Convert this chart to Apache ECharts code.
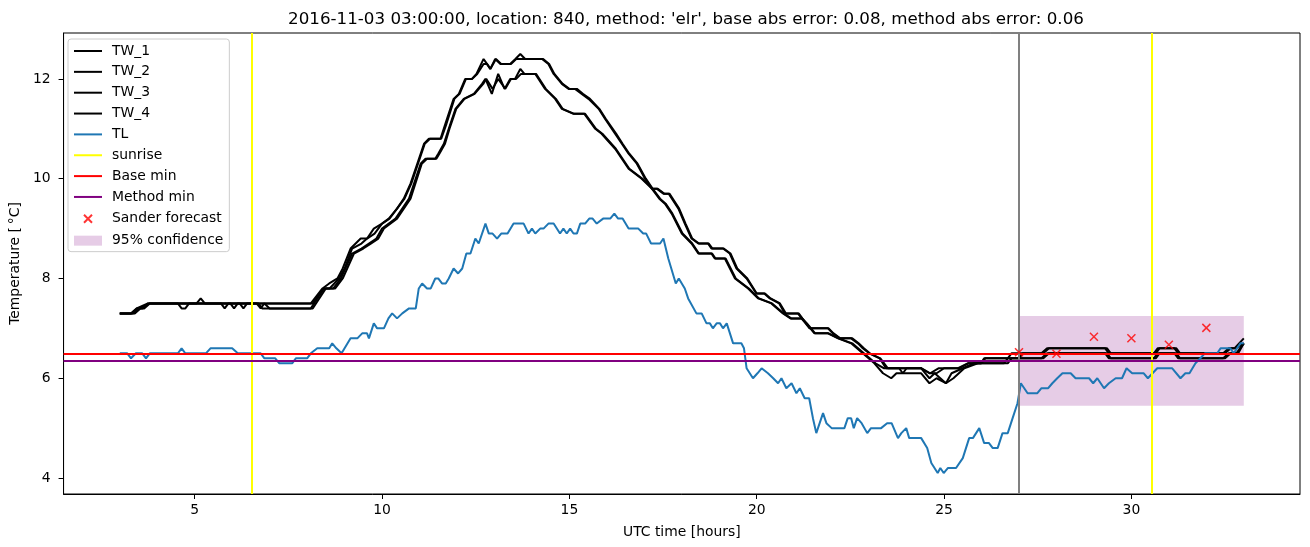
<!DOCTYPE html>
<html><head><meta charset="utf-8">
<script src="https://cdn.jsdelivr.net/npm/echarts@6/dist/echarts.min.js"></script>
<style>html,body{margin:0;padding:0;background:#fff}#c{width:1310px;height:547px}</style>
</head><body><div id="c"></div>
<script>
const titleText = "2016-11-03 03:00:00, location: 840, method: 'elr', base abs error: 0.08, method abs error: 0.06";
const xTicks = [5, 10, 15, 20, 25, 30];
const yTicks = [4, 6, 8, 10, 12];

const TW_1 = [[3.0,7.3],[3.3,7.3],[3.45,7.4],[3.6,7.4],[3.75,7.5],[5.05,7.5],[5.16,7.6],[5.27,7.5],[8.1,7.5],[8.41,7.8],[8.59,7.9],[8.81,8.0],[8.95,8.2],[9.16,8.6],[9.43,8.8],[9.6,8.8],[9.78,9.0],[10.0,9.1],[10.18,9.2],[10.4,9.4],[10.58,9.6],[10.76,9.9],[10.94,10.3],[11.12,10.7],[11.25,10.8],[11.56,10.8],[11.69,11.1],[11.91,11.6],[12.05,11.7],[12.22,12.0],[12.4,12.0],[12.52,12.1],[12.71,12.4],[12.8,12.3],[12.89,12.2],[13.02,12.4],[13.16,12.3],[13.42,12.3],[13.56,12.4],[13.69,12.5],[13.82,12.4],[14.27,12.4],[14.44,12.3],[14.58,12.1],[14.8,11.9],[14.98,11.8],[15.15,11.8],[15.33,11.7],[15.51,11.6],[15.78,11.4],[15.95,11.2],[16.22,10.9],[16.4,10.7],[16.58,10.5],[16.8,10.3],[17.02,10.0],[17.2,9.8],[17.33,9.8],[17.51,9.7],[17.65,9.7],[17.91,9.4],[18.08,9.1],[18.26,8.8],[18.44,8.7],[18.7,8.7],[18.79,8.6],[19.1,8.6],[19.28,8.5],[19.46,8.2],[19.73,8.0],[19.99,7.7],[20.2,7.7],[20.35,7.6],[20.6,7.5],[20.75,7.3],[21.1,7.3],[21.2,7.2],[21.41,7.0],[21.9,7.0],[22.03,6.9],[22.21,6.8],[22.52,6.8],[22.7,6.7],[22.83,6.6],[23.0,6.5],[23.28,6.4],[23.45,6.2],[24.39,6.2],[24.61,6.1],[24.8,6.1],[25.0,6.2],[25.36,6.2],[25.63,6.3],[25.98,6.3],[26.07,6.4],[26.7,6.4],[26.8,6.5],[27.6,6.5],[27.75,6.6],[29.35,6.6],[29.45,6.5],[30.6,6.5],[30.7,6.6],[31.2,6.6],[31.3,6.5],[32.45,6.5],[32.6,6.6],[32.75,6.6],[33.0,6.8]];

const TW_2 = [[3.0,7.3],[3.4,7.3],[3.55,7.4],[3.65,7.4],[3.8,7.5],[4.55,7.5],[4.65,7.4],[4.75,7.4],[4.85,7.5],[8.15,7.5],[8.45,7.8],[8.6,7.8],[8.85,8.0],[9.0,8.2],[9.2,8.6],[9.45,8.7],[9.6,8.8],[9.8,8.9],[10.0,9.1],[10.2,9.2],[10.4,9.4],[10.6,9.6],[10.78,9.9],[10.96,10.3],[11.14,10.7],[11.28,10.8],[11.58,10.8],[11.72,11.1],[11.93,11.6],[12.07,11.7],[12.24,12.0],[12.4,12.0],[12.54,12.1],[12.71,12.3],[12.8,12.3],[12.89,12.2],[13.04,12.4],[13.18,12.3],[13.44,12.3],[13.58,12.4],[13.7,12.4],[14.3,12.4],[14.46,12.3],[14.6,12.1],[14.82,11.9],[15.0,11.8],[15.2,11.8],[15.36,11.7],[15.55,11.6],[15.8,11.4],[15.97,11.2],[16.25,10.9],[16.42,10.7],[16.6,10.5],[16.82,10.3],[17.04,10.0],[17.22,9.8],[17.36,9.8],[17.53,9.7],[17.67,9.7],[17.93,9.4],[18.1,9.1],[18.28,8.8],[18.46,8.7],[18.72,8.7],[18.82,8.6],[19.12,8.6],[19.3,8.5],[19.48,8.2],[19.75,8.0],[20.0,7.7],[20.22,7.7],[20.37,7.6],[20.62,7.5],[20.78,7.3],[21.12,7.3],[21.22,7.2],[21.43,7.0],[21.92,7.0],[22.05,6.9],[22.23,6.8],[22.55,6.8],[22.72,6.7],[22.86,6.6],[23.02,6.5],[23.3,6.4],[23.5,6.2],[23.8,6.2],[23.9,6.1],[24.0,6.2],[24.4,6.2],[24.63,6.1],[24.85,6.2],[25.4,6.2],[25.65,6.3],[26.0,6.3],[26.1,6.4],[27.0,6.4],[27.1,6.5],[27.65,6.5],[27.8,6.6],[29.3,6.6],[29.4,6.5],[30.65,6.5],[30.75,6.6],[31.15,6.6],[31.25,6.5],[32.5,6.5],[32.65,6.6],[32.8,6.6],[33.0,6.7]];

const TW_3 = [[3.0,7.3],[3.3,7.3],[3.45,7.4],[3.75,7.5],[5.7,7.5],[5.8,7.4],[5.9,7.5],[6.2,7.5],[6.3,7.4],[6.4,7.5],[6.7,7.5],[6.8,7.4],[8.1,7.4],[8.45,7.8],[8.7,7.8],[8.9,8.0],[9.2,8.5],[9.45,8.6],[9.65,8.7],[9.85,8.8],[10.0,9.0],[10.36,9.2],[10.72,9.6],[11.03,10.3],[11.16,10.4],[11.42,10.4],[11.5,10.5],[11.65,10.7],[11.78,11.0],[11.96,11.4],[12.18,11.6],[12.45,11.7],[12.67,11.9],[12.76,12.0],[12.93,11.7],[13.1,12.1],[13.27,11.8],[13.42,12.0],[13.55,12.0],[13.69,12.2],[13.8,12.1],[14.09,12.1],[14.35,11.8],[14.62,11.6],[14.8,11.4],[15.11,11.3],[15.4,11.3],[15.69,11.0],[15.86,10.9],[16.22,10.6],[16.58,10.2],[16.93,10.0],[17.2,9.8],[17.4,9.6],[17.55,9.5],[17.73,9.3],[18.0,8.9],[18.26,8.7],[18.44,8.5],[18.79,8.5],[18.88,8.4],[19.15,8.4],[19.42,8.0],[19.77,7.8],[20.04,7.6],[20.39,7.5],[20.7,7.3],[20.9,7.2],[21.19,7.2],[21.32,7.1],[21.54,6.9],[21.9,6.9],[22.17,6.8],[22.52,6.7],[22.83,6.5],[23.14,6.3],[23.37,6.1],[23.59,6.0],[23.73,6.1],[24.39,6.1],[24.61,5.9],[24.8,6.0],[25.05,5.9],[25.25,6.0],[25.54,6.2],[25.9,6.3],[26.6,6.3],[26.7,6.4],[27.6,6.4],[27.75,6.5],[29.35,6.5],[29.45,6.4],[30.6,6.4],[30.7,6.5],[31.2,6.5],[31.3,6.4],[32.45,6.4],[32.6,6.5],[32.8,6.5],[33.0,6.7]];

const TW_4 = [[3.0,7.3],[3.35,7.3],[3.5,7.4],[3.8,7.5],[5.95,7.5],[6.05,7.4],[6.15,7.5],[6.65,7.5],[6.76,7.4],[6.86,7.5],[7.0,7.4],[8.15,7.4],[8.5,7.8],[8.75,7.8],[8.95,8.0],[9.25,8.5],[9.5,8.6],[9.7,8.7],[9.9,8.8],[10.05,9.0],[10.4,9.2],[10.76,9.6],[11.06,10.3],[11.2,10.4],[11.45,10.4],[11.53,10.5],[11.68,10.7],[11.8,11.0],[11.98,11.4],[12.2,11.6],[12.47,11.7],[12.7,11.9],[12.78,12.0],[12.95,11.8],[13.1,12.0],[13.29,11.8],[13.44,12.0],[13.58,12.0],[13.71,12.1],[14.11,12.1],[14.37,11.8],[14.64,11.6],[14.82,11.4],[15.13,11.3],[15.42,11.3],[15.71,11.0],[15.88,10.9],[16.24,10.6],[16.6,10.2],[16.95,10.0],[17.22,9.8],[17.42,9.6],[17.57,9.5],[17.75,9.3],[18.02,8.9],[18.28,8.7],[18.46,8.5],[18.81,8.5],[18.9,8.4],[19.17,8.4],[19.44,8.0],[19.79,7.8],[20.06,7.6],[20.41,7.5],[20.72,7.3],[20.92,7.2],[21.21,7.2],[21.34,7.1],[21.56,6.9],[21.92,6.9],[22.19,6.8],[22.55,6.7],[22.86,6.5],[23.17,6.3],[23.4,6.2],[23.7,6.2],[24.39,6.2],[24.5,6.1],[24.61,6.0],[24.75,6.1],[24.9,6.0],[25.05,5.9],[25.2,6.1],[25.5,6.2],[25.8,6.3],[26.7,6.3],[26.8,6.4],[27.65,6.4],[27.8,6.5],[29.3,6.5],[29.4,6.4],[30.65,6.4],[30.75,6.5],[31.15,6.5],[31.25,6.4],[32.5,6.4],[32.65,6.5],[32.85,6.5],[33.0,6.7]];

const TL = [[3.0,6.5],[3.2,6.5],[3.3,6.4],[3.43,6.5],[3.6,6.5],[3.7,6.4],[3.8,6.5],[4.55,6.5],[4.65,6.6],[4.75,6.5],[5.3,6.5],[5.42,6.6],[6.0,6.6],[6.15,6.5],[6.76,6.5],[6.86,6.4],[7.15,6.4],[7.26,6.3],[7.6,6.3],[7.7,6.4],[8.0,6.4],[8.1,6.5],[8.27,6.6],[8.59,6.6],[8.67,6.7],[8.78,6.6],[8.92,6.5],[9.16,6.8],[9.34,6.8],[9.47,6.9],[9.6,6.9],[9.65,6.8],[9.78,7.1],[9.87,7.0],[10.05,7.0],[10.17,7.2],[10.27,7.3],[10.4,7.2],[10.54,7.3],[10.72,7.4],[10.9,7.4],[10.98,7.8],[11.07,7.9],[11.2,7.8],[11.3,7.8],[11.42,8.0],[11.5,8.0],[11.6,7.9],[11.7,7.9],[11.78,8.0],[11.91,8.2],[12.03,8.1],[12.14,8.2],[12.25,8.5],[12.36,8.5],[12.49,8.8],[12.58,8.7],[12.76,9.1],[12.85,8.9],[12.95,8.9],[13.07,8.8],[13.18,8.9],[13.35,8.9],[13.51,9.1],[13.78,9.1],[13.91,8.9],[14.0,9.0],[14.09,8.9],[14.22,9.0],[14.31,9.0],[14.44,9.1],[14.58,9.1],[14.75,8.9],[14.84,9.0],[14.93,8.9],[15.02,9.0],[15.11,8.9],[15.2,8.9],[15.29,9.1],[15.42,9.1],[15.53,9.2],[15.62,9.2],[15.73,9.1],[15.9,9.2],[16.09,9.2],[16.2,9.3],[16.3,9.2],[16.42,9.2],[16.58,9.0],[16.84,9.0],[16.97,8.9],[17.05,8.9],[17.18,8.7],[17.42,8.7],[17.51,8.8],[17.64,8.4],[17.84,7.9],[17.92,8.0],[18.08,7.8],[18.17,7.6],[18.39,7.3],[18.53,7.3],[18.66,7.1],[18.75,7.1],[18.83,7.0],[18.93,7.1],[19.02,7.1],[19.1,7.0],[19.2,7.1],[19.37,6.7],[19.59,6.7],[19.66,6.6],[19.73,6.2],[19.9,6.0],[20.02,6.1],[20.13,6.2],[20.3,6.1],[20.44,6.0],[20.57,5.9],[20.66,6.0],[20.79,5.8],[20.93,5.9],[21.06,5.7],[21.15,5.8],[21.28,5.6],[21.4,5.6],[21.5,5.2],[21.59,4.9],[21.77,5.3],[21.86,5.1],[22.0,5.0],[22.34,5.0],[22.43,5.2],[22.52,5.2],[22.59,5.0],[22.68,5.2],[22.8,5.1],[22.95,4.9],[23.05,5.0],[23.32,5.0],[23.48,5.1],[23.6,5.1],[23.77,4.8],[23.86,4.9],[23.99,5.0],[24.07,4.8],[24.39,4.8],[24.55,4.6],[24.66,4.3],[24.83,4.1],[24.9,4.2],[24.99,4.1],[25.1,4.2],[25.32,4.2],[25.5,4.4],[25.67,4.8],[25.77,4.8],[25.94,5.0],[26.07,4.7],[26.2,4.7],[26.3,4.6],[26.43,4.6],[26.56,4.9],[26.7,4.9],[26.83,5.2],[26.96,5.5],[27.05,5.9],[27.23,5.7],[27.49,5.7],[27.6,5.8],[27.78,5.8],[27.89,5.9],[28.02,6.0],[28.16,6.1],[28.38,6.1],[28.51,6.0],[28.87,6.0],[28.98,5.9],[29.09,6.0],[29.27,5.8],[29.4,5.9],[29.58,6.0],[29.75,6.0],[29.87,6.2],[30.02,6.1],[30.33,6.1],[30.44,6.0],[30.69,6.2],[31.09,6.2],[31.31,6.0],[31.44,6.1],[31.55,6.1],[31.71,6.3],[31.84,6.4],[31.96,6.5],[32.29,6.5],[32.38,6.6],[32.64,6.6],[32.73,6.5],[32.91,6.7],[33.0,6.7]];

const sanderHours = [27, 28, 29, 30, 31, 32];
const sanderValues = [6.52, 6.49, 6.83, 6.80, 6.67, 7.01];
const sunriseHours = [6.52, 30.55];
const forecastStart = 27;
const baseMin = 6.5;
const methodMin = 6.36;
const confLow = 5.45, confHigh = 7.25, confStart = 27, confEnd = 33;

const FONT = 'DejaVu Sans';
const LINE_ICON = 'path://M0,6 L28,6 L28,8 L0,8 Z M0,0 M28,14';
const chart = echarts.init(document.getElementById('c'), null, {renderer: 'canvas'});

function lineSeries(name, data, color) {
  return {name, type: 'line', data, symbol: 'none', showSymbol: false, color,
    itemStyle: {color}, lineStyle: {color, width: 2}, animation: false, silent: true};
}

const option = {
  animation: false,
  backgroundColor: '#fff',
  title: {text: titleText, left: 681, top: 6, textAlign: 'center',
    textStyle: {fontFamily: FONT, fontSize: 16.7, fontWeight: 'normal', color: '#000'}},
  grid: {left: 62, right: 10, top: 33, bottom: 53, show: true, borderColor: '#000', borderWidth: 1, backgroundColor: 'transparent'},
  legend: {
    orient: 'vertical', left: 68, top: 39, padding: [5, 6, 4, 5], itemGap: 6.85,
    itemWidth: 28, itemHeight: 14,
    backgroundColor: 'rgba(255,255,255,0.8)', borderColor: '#cccccc', borderWidth: 1, borderRadius: 3,
    textStyle: {fontFamily: FONT, fontSize: 13.9, color: '#000', padding: [0, 0, 0, 5]},
    data: [
      {name: 'TW_1', icon: LINE_ICON}, {name: 'TW_2', icon: LINE_ICON},
      {name: 'TW_3', icon: LINE_ICON}, {name: 'TW_4', icon: LINE_ICON},
      {name: 'TL', icon: LINE_ICON}, {name: 'sunrise', icon: LINE_ICON},
      {name: 'Base min', icon: LINE_ICON}, {name: 'Method min', icon: LINE_ICON},
      {name: 'Sander forecast', icon: 'path://M0,0 M28,14 M10,3 L18,11 M18,3 L10,11'},
      {name: '95% confidence', icon: 'path://M0,2 L28,2 L28,12 L0,12 Z M0,0 M28,14'}]
  },
  xAxis: {
    type: 'value', min: 1.5, max: 34.5,
    name: 'UTC time [hours]', nameLocation: 'middle', nameGap: 31,
    nameTextStyle: {fontFamily: FONT, fontSize: 13.9, color: '#000'},
    axisLine: {show: true, lineStyle: {color: '#000', width: 1}},
    axisTick: {show: true, length: 5, customValues: xTicks, lineStyle: {color: '#000'}},
    axisLabel: {customValues: xTicks, fontFamily: FONT, fontSize: 13.9, color: '#000', margin: 9},
    splitLine: {show: false}
  },
  yAxis: {
    type: 'value', min: 3.68, max: 12.92,
    name: 'Temperature [\u2009°C]', nameLocation: 'middle', nameGap: 38,
    nameTextStyle: {fontFamily: FONT, fontSize: 13.9, color: '#000'},
    axisLine: {show: true, lineStyle: {color: '#000', width: 1}},
    axisTick: {show: true, length: 5, customValues: yTicks, lineStyle: {color: '#000'}},
    axisLabel: {customValues: yTicks, fontFamily: FONT, fontSize: 13.9, color: '#000', margin: 13},
    splitLine: {show: false}
  },
  series: [
    lineSeries('TW_1', TW_1, '#000000'),
    lineSeries('TW_2', TW_2, '#000000'),
    lineSeries('TW_3', TW_3, '#000000'),
    lineSeries('TW_4', TW_4, '#000000'),
    lineSeries('TL', TL, '#1f77b4'),
    Object.assign(lineSeries('sunrise', [], '#ffff00'), {
      markLine: {silent: true, symbol: 'none', label: {show: false}, animation: false,
        lineStyle: {color: '#ffff00', width: 2, type: 'solid'},
        data: sunriseHours.map(h => ({xAxis: h}))}
    }),
    Object.assign(lineSeries('Base min', [], '#ff0000'), {
      markLine: {silent: true, symbol: 'none', label: {show: false}, animation: false,
        lineStyle: {color: '#ff0000', width: 2, type: 'solid'},
        data: [{yAxis: baseMin}, {xAxis: forecastStart, lineStyle: {color: '#808080', width: 2}}]}
    }),
    Object.assign(lineSeries('Method min', [], '#800080'), {
      markLine: {silent: true, symbol: 'none', label: {show: false}, animation: false,
        lineStyle: {color: '#800080', width: 2, type: 'solid'},
        data: [{yAxis: methodMin}]}
    }),
    {name: 'Sander forecast', type: 'scatter', data: sanderHours.map((h, i) => [h, sanderValues[i]]),
      symbol: 'path://M0,0 L10,10 M10,0 L0,10', symbolSize: 8, z: 5,
      itemStyle: {color: '#ff0000', borderColor: '#ff0000', borderWidth: 1.5}, silent: true},
    {name: '95% confidence', type: 'line', data: [], color: 'rgba(128,0,128,0.2)',
      itemStyle: {color: 'rgba(128,0,128,0.2)'}, lineStyle: {width: 0},
      markArea: {silent: true, itemStyle: {color: 'rgba(128,0,128,0.2)'},
        data: [[{xAxis: confStart, yAxis: confLow}, {xAxis: confEnd, yAxis: confHigh}]]}}
  ]
};
chart.setOption(option);
</script></body></html>
